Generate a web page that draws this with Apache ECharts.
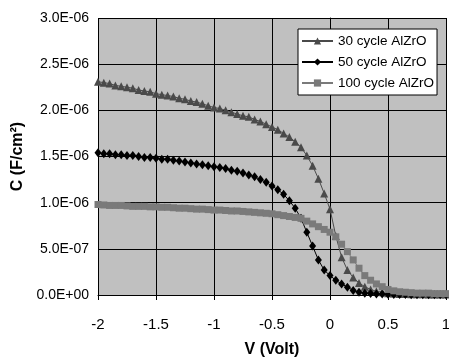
<!DOCTYPE html>
<html>
<head>
<meta charset="utf-8">
<script src="https://cdn.jsdelivr.net/npm/echarts@6/dist/echarts.min.js"></script>
<style>
  html, body { margin: 0; padding: 0; background: #fff; }
  #chart { width: 449px; height: 360px; }
</style>
</head>
<body>
<div id="chart"></div>
<script>
// bias voltage (V), step 0.05 from -2 to 1
var voltList = [];
for (var k = 0; k <= 60; k++) voltList.push(Math.round((-2 + k * 0.05) * 100) / 100);

// capacitance in units of 1E-06 F/cm2
var cap30 = [
    2.31, 2.30, 2.29, 2.27, 2.26, 2.25, 2.24, 2.22, 2.21, 2.20,
    2.18, 2.17, 2.16, 2.15, 2.13, 2.12, 2.10, 2.09, 2.07, 2.05,
    2.03, 2.02, 2.00, 1.98, 1.96, 1.94, 1.93, 1.90, 1.88, 1.85,
    1.82, 1.79, 1.75, 1.71, 1.66, 1.60, 1.51, 1.40, 1.26, 1.10,
    0.93, 0.64, 0.41, 0.27, 0.19, 0.13, 0.09, 0.06, 0.04, 0.03,
    0.02, 0.015, 0.012, 0.01, 0.009, 0.008, 0.007, 0.006, 0.006, 0.005,
    0.005
];
var cap50 = [
    1.54, 1.53, 1.53, 1.52, 1.52, 1.51, 1.51, 1.50, 1.49, 1.49,
    1.48, 1.47, 1.47, 1.46, 1.45, 1.44, 1.43, 1.42, 1.41, 1.40,
    1.39, 1.38, 1.37, 1.35, 1.34, 1.32, 1.30, 1.28, 1.25, 1.22,
    1.18, 1.14, 1.09, 1.02, 0.94, 0.83, 0.68, 0.53, 0.38, 0.27,
    0.21, 0.16, 0.12, 0.085, 0.05, 0.03, 0.02, 0.015, 0.012, 0.01,
    0.008, 0.006, 0.005, 0.005, 0.004, 0.004, 0.003, 0.003, 0.003, 0.002,
    0.002
];
var cap100 = [
    0.98, 0.975, 0.97, 0.97, 0.97, 0.965, 0.96, 0.96, 0.96, 0.955,
    0.955, 0.95, 0.95, 0.945, 0.94, 0.94, 0.935, 0.93, 0.93, 0.925,
    0.92, 0.92, 0.915, 0.91, 0.91, 0.905, 0.90, 0.895, 0.89, 0.885,
    0.88, 0.87, 0.86, 0.85, 0.84, 0.83, 0.80, 0.77, 0.74, 0.71,
    0.68, 0.63, 0.55, 0.47, 0.38, 0.29, 0.21, 0.16, 0.12, 0.09,
    0.06, 0.045, 0.035, 0.03, 0.025, 0.02, 0.02, 0.02, 0.015, 0.015,
    0.015
];

var seriesNames = ['30 cycle AlZrO', '50 cycle AlZrO', '100 cycle AlZrO'];

function toPairs(list) {
    var out = [];
    for (var i = 0; i < list.length; i++) out.push([voltList[i], list[i] * 1e-6]);
    return out;
}

// Excel style 0.0E+00
function sciLabel(v) {
    var s = Number(v).toExponential(1).split('e');
    var ex = parseInt(s[1], 10);
    var sign = ex < 0 ? '-' : '+';
    ex = Math.abs(ex);
    return s[0] + 'E' + sign + (ex < 10 ? '0' + ex : ex);
}

var font = 'Liberation Sans, Arial, sans-serif';
var chart = echarts.init(document.getElementById('chart'));

var option = {
    animation: false,
    backgroundColor: '#fff',
    grid: {
        left: 98, top: 18, right: 3, bottom: 65,
        outerBoundsMode: 'none',
        containLabel: false,
        show: true, backgroundColor: '#c0c0c0', borderWidth: 0
    },
    legend: {
        orient: 'vertical',
        left: 298, top: 29,
        backgroundColor: '#fff',
        borderColor: '#000',
        borderWidth: 1,
        borderRadius: 0,
        padding: [5, 3, 5, 3],
        itemGap: 7,
        itemWidth: 31,
        itemHeight: 9,
        textStyle: { fontFamily: font, fontSize: 13.5, color: '#000' },
        data: seriesNames
    },
    xAxis: {
        type: 'value',
        min: -2, max: 1, interval: 0.5,
        name: 'V (Volt)',
        nameLocation: 'middle',
        nameGap: 47,
        nameTextStyle: { fontFamily: font, fontSize: 16, fontWeight: 'bold', color: '#000' },
        axisLine: { onZero: false, lineStyle: { color: '#000', width: 1 } },
        axisTick: { show: true, length: 5, lineStyle: { color: '#000' } },
        axisLabel: { fontFamily: font, fontSize: 15, color: '#000', margin: 22 },
        splitLine: { show: true, lineStyle: { color: '#000', width: 1 } }
    },
    yAxis: {
        type: 'value',
        min: 0, max: 3e-6, interval: 0.5e-6,
        name: 'C (F/cm²)',
        nameLocation: 'middle',
        nameGap: 68,
        nameTextStyle: { fontFamily: font, fontSize: 16, fontWeight: 'bold', color: '#000' },
        axisLine: { show: true, lineStyle: { color: '#000', width: 1 } },
        axisTick: { show: true, length: 4, lineStyle: { color: '#000' } },
        axisLabel: { fontFamily: font, fontSize: 14, color: '#000', margin: 9, formatter: sciLabel },
        splitLine: { show: true, lineStyle: { color: '#000', width: 1 } }
    },
    series: [{
        name: seriesNames[0],
        type: 'line',
        data: toPairs(cap30),
        symbol: 'triangle',
        symbolSize: 8,
        color: '#4a4a4a',
        lineStyle: { width: 1, color: '#4a4a4a' },
        itemStyle: { color: '#4a4a4a' }
    }, {
        name: seriesNames[1],
        type: 'line',
        data: toPairs(cap50),
        symbol: 'diamond',
        symbolSize: [7, 9],
        color: '#000',
        lineStyle: { width: 1, color: '#000' },
        itemStyle: { color: '#000' }
    }, {
        name: seriesNames[2],
        type: 'line',
        data: toPairs(cap100),
        symbol: 'rect',
        symbolSize: 7,
        color: '#7a7a7a',
        lineStyle: { width: 1, color: '#7a7a7a' },
        itemStyle: { color: '#7a7a7a' }
    }]
};

chart.setOption(option);
</script>
</body>
</html>
